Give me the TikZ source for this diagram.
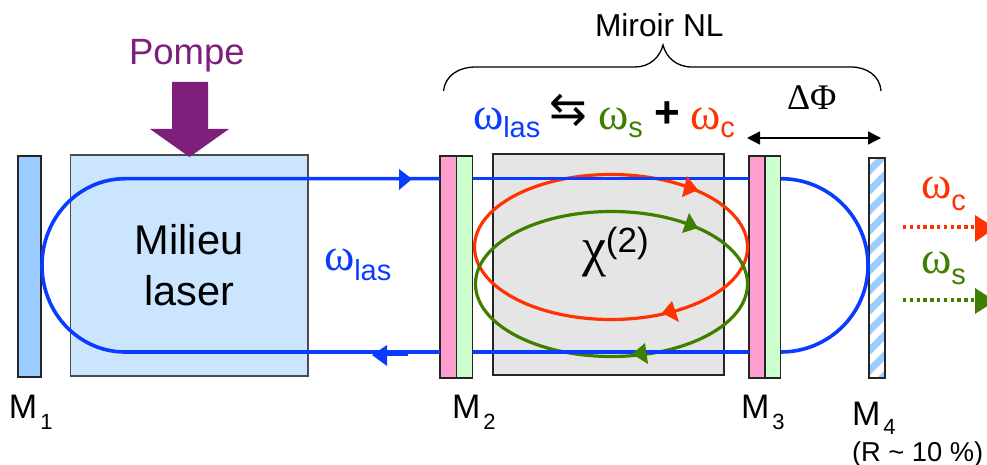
\documentclass[tikz,border=0pt]{standalone}
\usepackage{fontspec}
\setmainfont{Liberation Sans}
\newfontfamily\serifgr{Liberation Serif}
\newfontfamily\symfont{DejaVu Sans}
\usetikzlibrary{arrows.meta,calc}
\definecolor{cblue}{HTML}{0A3CFF}
\definecolor{cred}{HTML}{FF3300}
\definecolor{cgreen}{HTML}{3F7F00}
\definecolor{cpurple}{HTML}{7F1F7C}
\definecolor{cmirror}{HTML}{99CCFF}
\definecolor{cmedium}{HTML}{CCE5FF}
\definecolor{cpink}{HTML}{FF9FCF}
\definecolor{clgreen}{HTML}{CCFFCC}
\definecolor{cgrey}{HTML}{E5E5E5}
\newcommand{\fsz}[1]{\fontsize{#1}{#1}\selectfont}
\newcommand{\om}[3][46]{{\serifgr\fsz{#1}ω}\raisebox{-#3pt}{\fsz{29}#2}}
\newcommand{\lbl}[2]{\fsz{34}M\kern3pt\raisebox{-#2pt}{\fsz{22}#1}}
\tikzset{
  x=1pt,y=-1pt,
  box/.style={draw=black!85,line width=1.1pt,inner sep=0pt,outer sep=0pt,anchor=north west},
  txt/.style={inner sep=0pt,outer sep=0pt,anchor=base west},
  beam/.style={draw=cblue,line width=3.6pt},
  loopr/.style={draw=cred,line width=3.2pt},
  loopg/.style={draw=cgreen,line width=3.2pt},
  outr/.style={draw=cred,line width=3.2pt,dash pattern=on 3.4pt off 3.4pt},
  outg/.style={draw=cgreen,line width=3.2pt,dash pattern=on 3.4pt off 3.4pt},
}
\begin{document}
\begin{tikzpicture}
\useasboundingbox (0,0) rectangle (987,465);
\clip (0,0) rectangle (987,465);
% boxes
\node[box,fill=cmirror,minimum width=23pt,minimum height=221pt] (M1) at (18,156) {};
\node[box,fill=cmedium,minimum width=237.5pt,minimum height=221pt,draw=black!70] (med) at (70.5,155) {};
\node[box,fill=cgrey,minimum width=231pt,minimum height=221pt] (crys) at (493,154) {};
\node[box,fill=cpink,minimum width=16.5pt,minimum height=222pt] (M2a) at (440,156) {};
\node[box,fill=clgreen,minimum width=16pt,minimum height=222pt] (M2b) at (456.5,156) {};
\node[box,fill=cpink,minimum width=16pt,minimum height=222pt] (M3a) at (749,156) {};
\node[box,fill=clgreen,minimum width=15.7pt,minimum height=222pt] (M3b) at (765,156) {};
\node[box,fill=white,minimum width=16pt,minimum height=220pt] (M4) at (869,158) {};
\begin{scope}
\clip (M4.north west) rectangle (M4.south east);
\foreach \k in {0,...,14}
  \draw[cmirror,line width=7pt] (860,{180+20*\k}) -- (895,{180+20*\k-35});
\end{scope}
\node[box,minimum width=16pt,minimum height=220pt] (M4f) at (869,158) {};
% pump
\coordinate (ptip) at (189.5,157);
\fill[cpurple] (172,82) -- (208,82) -- (208,129) -- (229,129) -- (ptip) -- (150,129) -- (172,129) -- cycle;
% non-linear loops
\node[draw=none,minimum width=0pt] (redc) at (611,247) {};
\node[draw=none,minimum width=0pt] (grnc) at (611.5,284) {};
\draw[loopr] (redc) ellipse [x radius=136.5, y radius=72.5];
\draw[loopg] (grnc) ellipse [x radius=136, y radius=72.5];
% beams
\coordinate (tl) at (125,178.7);
\coordinate (bl) at (125,352);
\coordinate (trr) at (781,178.7);
\coordinate (brr) at (781,352);
\draw[beam] (M2a.west |- tl) -- (tl) arc[start angle=-90,end angle=-270,x radius=83,y radius=86.65] -- (M2a.west |- bl);
\draw[beam] (M2b.east |- tl) -- (M3a.west |- tl);
\draw[beam] (M2b.east |- bl) -- (M3a.west |- bl);
\draw[beam] (trr) arc[start angle=-90,end angle=90,x radius=87,y radius=86.65];
% beam arrowheads
\fill[cblue] (399,169) -- (412,179) -- (399,190) -- cycle;
\fill[cblue] (372,355) -- (387,345) -- (387,366) -- cycle;
\fill[cblue] (385,352) rectangle (408,355.5);
% loop arrowheads
\fill[cred] (687,176) -- (698,190) -- (682,197) -- cycle;
\fill[cgreen] (689,213) -- (698,228) -- (682,233) -- cycle;
\fill[cred] (662,313) -- (672,301) -- (679,322) -- cycle;
\fill[cgreen] (632,354) -- (645,343) -- (648,364) -- cycle;
% brace
\coordinate (bL) at (443.5,91);
\coordinate (bT) at (663,45);
\coordinate (bR) at (881,91);
\draw[black,line width=1.3pt] (bL) .. controls (445,76) and (458,67) .. (476,67) -- (635,67)
  .. controls (650,67) and (660,57) .. (bT) .. controls (666,57) and (676,67) .. (692,67) -- (851,67)
  .. controls (867,67) and (880,76) .. (bR);
% delta-phi arrow
\coordinate (dL) at (747,138);
\coordinate (dR) at (881,138);
\draw[black,line width=1.4pt,{Triangle[length=13pt,width=13pt]}-{Triangle[length=13pt,width=13pt]}] (dL) -- (dR);
% output arrows
\coordinate (orL) at (903,227);
\coordinate (ogL) at (903,300);
\draw[outr] (orL) -- (975,227);
\draw[outg] (ogL) -- (975,300);
\fill[cred] (975,215) -- (995,228) -- (975,242) -- cycle;
\fill[cgreen] (975,288) -- (995,301) -- (975,314) -- cycle;
% texts
\node[txt,text=cpurple] (pompe) at (129,65) {\fsz{36.5}Pompe};
\node[txt,anchor=base] (milieu) at (189,254) {\fsz{41.5}Milieu};
\node[txt,anchor=base] (laser) at (189,305) {\fsz{41.5}laser};
\node[txt,text=cblue] (wl) at (324,270) {\om{las}{10}};
\node[txt] (chi) at (582,265) {{\serifgr\fsz{54}χ}\raisebox{13pt}{\fsz{35}(2)}};
\node[txt] (nl) at (595,37) {\fsz{31.7}Miroir NL};
\node[txt,text=cblue] (f1) at (473,130) {\om{las}{8}};
\node[txt] (f2) at (549,125) {\symfont\fsz{45}⇆};
\node[txt,text=cgreen] (f3) at (598,130) {\om{s}{8}};
\node[txt] (f4) at (654,128) {\fsz{44}\bfseries +};
\node[txt,text=cred] (f5) at (690,130) {\om{c}{8}};
\node[txt] (dphi) at (787,110) {\serifgr\fsz{36}ΔΦ};
\node[txt,text=cred] (oc) at (921,199) {\om{c}{12}};
\node[txt,text=cgreen] (os) at (921,273) {\om{s}{11}};
\node[txt] (l1) at (9,418) {\lbl{1}{11}};
\node[txt] (l2) at (452,418) {\lbl{2}{11}};
\node[txt] (l3) at (741,418) {\lbl{3}{11}};
\node[txt] (l4) at (852,425) {\lbl{4}{9}};
\node[txt] (r4) at (852,461) {\fsz{27.3}(R \textasciitilde{} 10 \%)};
\end{tikzpicture}
\end{document}
